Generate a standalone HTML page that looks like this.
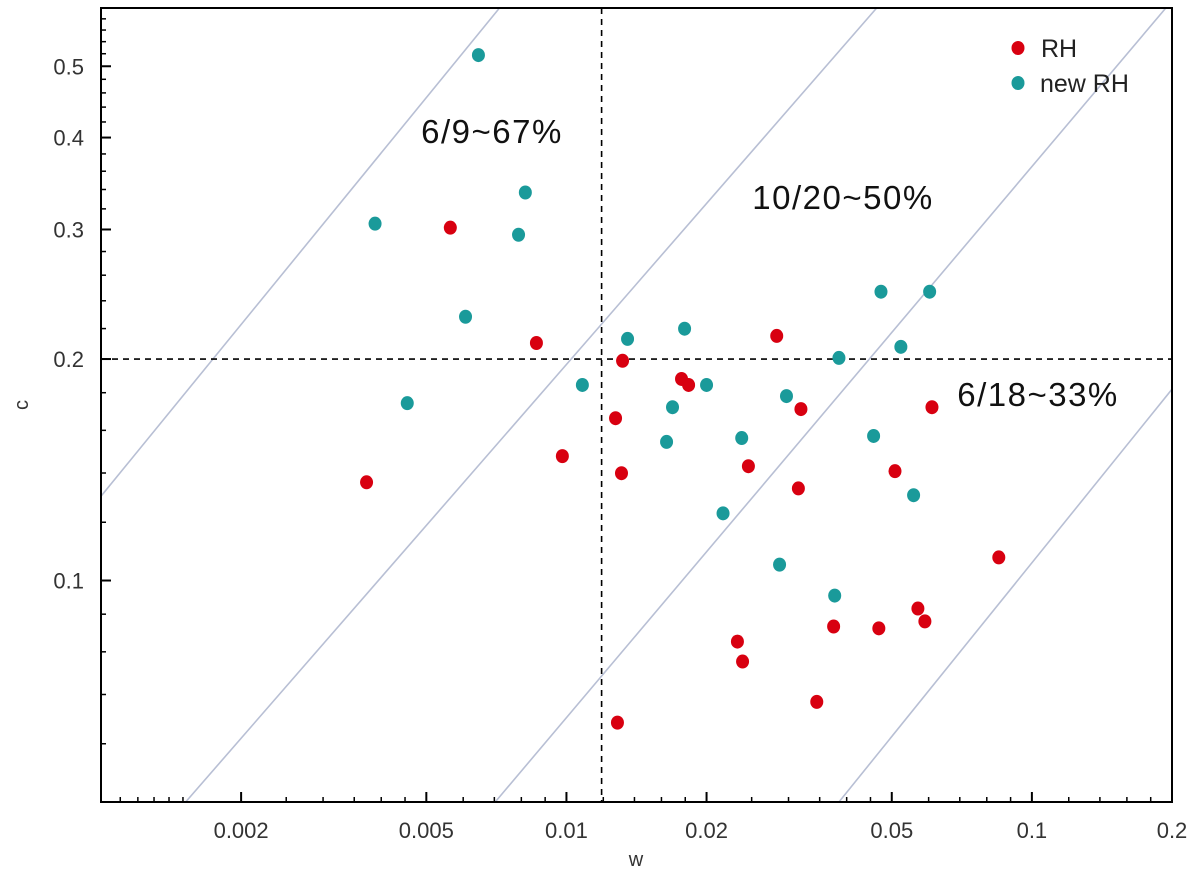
<!DOCTYPE html>
<html><head><meta charset="utf-8">
<style>
html,body{margin:0;padding:0;background:#fff;}
svg{display:block;font-family:"Liberation Sans",sans-serif;}
</style></head>
<body>
<svg id="chart" width="1200" height="878" viewBox="0 0 1200 878"></svg>
<script>
const redW=[0.00372,0.00563,0.00862,0.00980,0.0132,0.01275,0.01313,0.01287,0.01767,0.0183,0.0246,0.0233,0.0239,0.0283,0.0319,0.0315,0.0345,0.0375,0.0469,0.0508,0.0569,0.0589,0.0610,0.0849];
const redC=[0.1360,0.3017,0.2103,0.1476,0.1989,0.1662,0.1399,0.0641,0.1879,0.1844,0.1430,0.0826,0.0776,0.2150,0.1710,0.1334,0.0684,0.0866,0.0861,0.1408,0.0916,0.0880,0.1720,0.1075];
const tealW=[0.00647,0.00816,0.00388,0.00789,0.00607,0.00455,0.01082,0.01353,0.01794,0.01690,0.01641,0.0200,0.0217,0.0238,0.0297,0.0287,0.0377,0.0385,0.0474,0.0603,0.0523,0.0457,0.0557];
const tealC=[0.5178,0.3368,0.3055,0.2951,0.2283,0.1742,0.1844,0.2130,0.2199,0.1720,0.1543,0.1844,0.1234,0.1562,0.1781,0.1051,0.0954,0.2007,0.2469,0.2469,0.2078,0.1572,0.1306];
const diagW1=[0.001,0.00152,0.00703,0.0385];
const diagC1=[0.1302,0.05,0.05,0.05];
const diagW2=[0.00718,0.0464,0.194,0.2];
const diagC2=[0.6,0.6,0.6,0.182];
const xTicks=[0.002,0.005,0.01,0.02,0.05,0.1,0.2];
const xTickLabels=["0.002","0.005","0.01","0.02","0.05","0.1","0.2"];
const xMinor=[0.0011,0.0012,0.0013,0.0014,0.0015,0.0025,0.003,0.0035,0.004,0.0045,0.006,0.007,0.008,0.009,0.012,0.014,0.016,0.018,0.025,0.03,0.035,0.04,0.045,0.06,0.07,0.08,0.09,0.12,0.14,0.16,0.18];
const yTicks=[0.1,0.2,0.3,0.4,0.5];
const yTickLabels=["0.1","0.2","0.3","0.4","0.5"];
const yMinor=[0.06,0.07,0.08,0.09,0.12,0.14,0.16,0.18,0.22,0.24,0.26,0.28,0.32,0.34,0.36,0.38,0.42,0.44,0.46,0.48,0.52,0.54,0.56,0.58];
const thresholdW=0.0119, thresholdC=0.2;

const L=101,R=1172,T=8,B=802;
const xmin=0.001,xmax=0.2,ymin=0.05,ymax=0.6;
function X(w){return L+(Math.log10(w)-Math.log10(xmin))/(Math.log10(xmax)-Math.log10(xmin))*(R-L);}
function Y(c){return B-(Math.log10(c)-Math.log10(ymin))/(Math.log10(ymax)-Math.log10(ymin))*(B-T);}
const svg=document.getElementById('chart');
const NS='http://www.w3.org/2000/svg';
function mk(tag,attrs,parent){const e=document.createElementNS(NS,tag);for(const k in attrs)e.setAttribute(k,attrs[k]);(parent||svg).appendChild(e);return e;}

const defs=mk('defs',{});
const cp=mk('clipPath',{id:'clip'},defs);
mk('rect',{x:L,y:T,width:R-L,height:B-T},cp);
const plot=mk('g',{'clip-path':'url(#clip)'});



for(let i=0;i<diagW1.length;i++){
  const l=mk('line',{x1:X(diagW1[i]),y1:Y(diagC1[i]),x2:X(diagW2[i]),y2:Y(diagC2[i]),stroke:'#b8bfd4','stroke-width':1.6},plot);
  
  
}
const vl=mk('line',{x1:X(thresholdW),y1:T,x2:X(thresholdW),y2:B,stroke:'#000','stroke-width':1.6,'stroke-dasharray':'6,5'},plot);


const hl=mk('line',{x1:L,y1:Y(thresholdC),x2:R,y2:Y(thresholdC),stroke:'#000','stroke-width':1.6,'stroke-dasharray':'6,5'},plot);



for(let i=0;i<redW.length;i++){
  const p=mk('ellipse',{cx:X(redW[i]),cy:Y(redC[i]),rx:6.5,ry:7,fill:'#d80010'},plot);
  
  
}
for(let i=0;i<tealW.length;i++){
  const p=mk('ellipse',{cx:X(tealW[i]),cy:Y(tealC[i]),rx:6.5,ry:7,fill:'#1a9a9a'},plot);
  
  
}

const frame=mk('rect',{x:L,y:T,width:R-L,height:B-T,fill:'none',stroke:'#000','stroke-width':2});



for(let i=0;i<xTicks.length;i++){
  const x=X(xTicks[i]);
  mk('line',{x1:x,y1:B,x2:x,y2:B-10,stroke:'#000','stroke-width':2});
  const t=mk('text',{x:x,y:838,'text-anchor':'middle','font-size':22,fill:'#333'});
  t.textContent=xTickLabels[i];
  
  
}
for(const v of xMinor){const x=X(v);mk('line',{x1:x,y1:B,x2:x,y2:B-5,stroke:'#000','stroke-width':1.5});}
for(let i=0;i<yTicks.length;i++){
  const y=Y(yTicks[i]);
  mk('line',{x1:L,y1:y,x2:L+10,y2:y,stroke:'#000','stroke-width':2});
  const t=mk('text',{x:84,y:y+8,'text-anchor':'end','font-size':22,fill:'#333'});
  t.textContent=yTickLabels[i];
  
  
}
for(const v of yMinor){const y=Y(v);mk('line',{x1:L,y1:y,x2:L+5,y2:y,stroke:'#000','stroke-width':1.5});}

const xt=mk('text',{x:636,y:866,'text-anchor':'middle','font-size':20,fill:'#333'});
xt.textContent='w';


const yt=mk('text',{x:28,y:405,'text-anchor':'middle','font-size':20,fill:'#333',transform:'rotate(-90 28 405)'});
yt.textContent='c';



const ann=[['6/9~67%',492,143,'annotation-quadrant-1'],['10/20~50%',843,209,'annotation-quadrant-2'],['6/18~33%',1038,406,'annotation-quadrant-3']];
for(const a of ann){
  const t=mk('text',{x:a[1],y:a[2],'text-anchor':'middle','font-size':33,'letter-spacing':'1.5px',fill:'#111'});
  t.textContent=a[0];
  
  
}

const lg=mk('g',{});


const e1=mk('ellipse',{cx:1018,cy:48,rx:6.5,ry:7,fill:'#d80010'},lg);


const t1=mk('text',{x:1041,y:57,'font-size':25,fill:'#222'},lg);
t1.textContent='RH';


const e2=mk('ellipse',{cx:1018,cy:83,rx:6.5,ry:7,fill:'#1a9a9a'},lg);


const t2=mk('text',{x:1040,y:92,'font-size':25,fill:'#222'},lg);
t2.textContent='new RH';


</script>
</body></html>
